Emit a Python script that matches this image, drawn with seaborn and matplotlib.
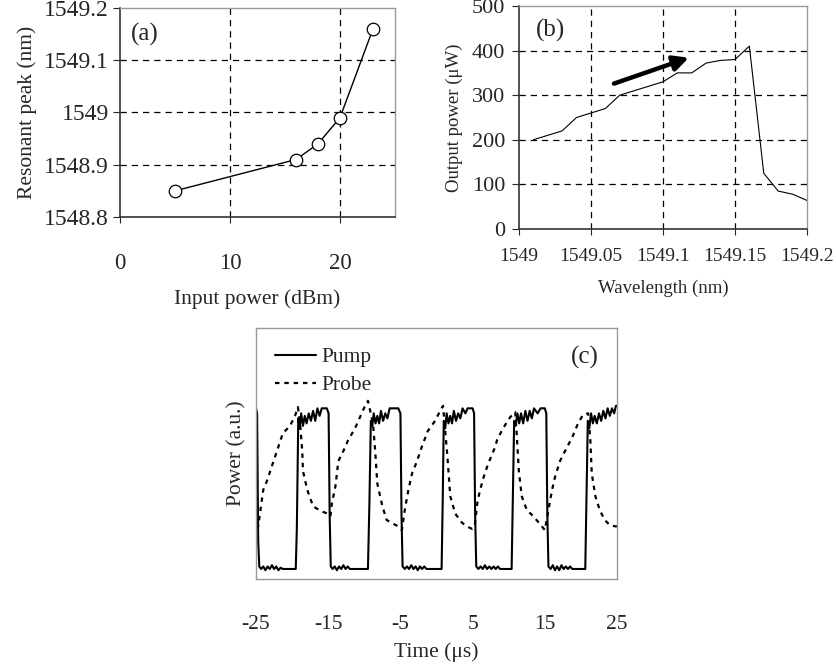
import seaborn as sns
import pandas as pd
import numpy as np
from matplotlib import pyplot as plt

# (a) resonant peak vs input power
power_dbm = [5, 16, 18, 20, 23]
peak_nm = [1548.85, 1548.91, 1548.94, 1548.99, 1549.16]

# (b) output power vs wavelength
wl_nm = [1549.01, 1549.03, 1549.04, 1549.05, 1549.06, 1549.07, 1549.08, 1549.09,
         1549.10, 1549.11, 1549.12, 1549.13, 1549.14, 1549.15, 1549.16, 1549.17,
         1549.18, 1549.19, 1549.20]
out_uw = [200, 220, 250, 260, 270, 300, 310, 320, 330, 350, 350, 372, 378, 380,
          410, 125, 85, 78, 64]

# (c) pump / probe traces
pump_t = [-25.0, -24.85, -24.7, -24.55, -24.3, -24.0, -23.7, -23.4, -23.1, -22.8, -22.5,
          -22.2, -21.9, -21.6, -21.3, -20.5, -19.5,
          -19.35, -19.15, -18.95, -18.75, -18.5, -18.25, -18.0, -17.7, -17.4, -17.1, -16.8,
          -16.5, -16.2, -15.9, -15.2, -14.95,
          -14.8, -14.65, -14.4, -14.1, -13.8, -13.5, -13.2, -12.9, -12.6, -12.3, -12.0,
          -11.0, -9.5,
          -9.3, -9.1, -8.9, -8.7, -8.45, -8.2, -7.95, -7.7, -7.4, -7.1, -6.8, -6.5, -5.3, -5.0,
          -4.85, -4.7, -4.4, -4.1, -3.8, -3.5, -3.2, -2.9, -2.6, -2.3, -2.0, -1.7, -1.4, 0.7,
          0.85, 1.0, 1.2, 1.4, 1.65, 1.9, 2.15, 2.4, 2.7, 3.0, 3.3, 3.6, 4.0, 4.3, 5.0, 5.2,
          5.35, 5.5, 5.8, 6.1, 6.4, 6.7, 7.0, 7.3, 7.6, 7.9, 8.2, 8.5, 8.8, 10.4,
          10.55, 10.75, 10.95, 11.2, 11.45, 11.7, 12.0, 12.3, 12.6, 12.9, 13.2, 13.5, 14.0,
          14.4, 15.0, 15.2,
          15.35, 15.5, 15.8, 16.1, 16.4, 16.7, 17.0, 17.3, 17.6, 17.9, 18.2, 18.5, 18.8, 20.6,
          20.75, 20.95, 21.15, 21.4, 21.65, 21.9, 22.2, 22.5, 22.8, 23.1, 23.4, 23.7, 24.0,
          24.3, 24.6, 24.85, 25.0]
pump_p = [0.68, 0.66, 0.15, 0.05, 0.04, 0.05, 0.035, 0.05, 0.04, 0.055, 0.04,
          0.05, 0.035, 0.045, 0.04, 0.04, 0.04,
          0.2, 0.64, 0.60, 0.66, 0.61, 0.65, 0.62, 0.66, 0.63, 0.67, 0.63,
          0.68, 0.65, 0.68, 0.68, 0.66,
          0.25, 0.05, 0.04, 0.05, 0.035, 0.05, 0.04, 0.055, 0.04, 0.05, 0.04,
          0.04, 0.04,
          0.3, 0.63, 0.61, 0.66, 0.62, 0.65, 0.62, 0.67, 0.63, 0.66, 0.64, 0.68, 0.68, 0.66,
          0.25, 0.05, 0.04, 0.05, 0.04, 0.055, 0.04, 0.05, 0.035, 0.05, 0.04, 0.05, 0.04, 0.04,
          0.3, 0.63, 0.60, 0.66, 0.62, 0.65, 0.62, 0.67, 0.63, 0.66, 0.64, 0.68, 0.66, 0.68, 0.68, 0.66,
          0.25, 0.05, 0.04, 0.05, 0.04, 0.055, 0.04, 0.05, 0.04, 0.05, 0.04, 0.05, 0.04, 0.04,
          0.3, 0.63, 0.61, 0.66, 0.62, 0.66, 0.62, 0.67, 0.63, 0.67, 0.64, 0.68, 0.66,
          0.68, 0.68, 0.66,
          0.25, 0.05, 0.04, 0.055, 0.035, 0.05, 0.035, 0.055, 0.04, 0.05, 0.04, 0.05, 0.04, 0.04,
          0.3, 0.63, 0.60, 0.66, 0.62, 0.65, 0.62, 0.66, 0.63, 0.67, 0.64, 0.68, 0.65,
          0.68, 0.66, 0.69, 0.69]

probe_t = [-25.0, -24.7, -24.0, -23.5, -22.8, -22.1, -21.3, -20.3, -19.6, -19.2,
           -18.9, -18.6, -18.5, -17.9, -17.1, -16.0, -15.0, -14.7,
           -14.5, -14.0, -13.6, -12.9, -12.3, -11.3, -10.6, -9.9, -9.5,
           -8.8, -8.5, -8.2, -7.5, -6.9, -6.0, -5.3, -4.8,
           -4.4, -3.9, -3.4, -2.7, -2.0, -1.2, -0.2, 0.5, 0.9,
           1.2, 1.5, 1.9, 2.6, 3.5, 4.2, 4.9, 5.3,
           5.7, 6.4, 7.1, 8.1, 8.4, 9.2, 10.2, 10.9,
           11.1, 11.4, 11.8, 12.5, 13.4, 14.3, 15.0,
           15.4, 16.0, 16.4, 17.1, 17.8, 18.8, 19.6, 20.3, 21.0,
           21.3, 21.5, 22.0, 22.6, 23.3, 24.0, 24.7, 25.0]
probe_p = [0.20, 0.21, 0.355, 0.39, 0.45, 0.51, 0.58, 0.61, 0.65, 0.685,
           0.62, 0.51, 0.43, 0.355, 0.29, 0.27, 0.26, 0.25,
           0.30, 0.37, 0.47, 0.51, 0.55, 0.60, 0.645, 0.69, 0.71,
           0.62, 0.51, 0.38, 0.29, 0.235, 0.22, 0.21, 0.195,
           0.275, 0.355, 0.42, 0.47, 0.53, 0.59, 0.63, 0.67, 0.69,
           0.59, 0.49, 0.33, 0.26, 0.225, 0.21, 0.20, 0.215,
           0.315, 0.395, 0.455, 0.525, 0.555, 0.60, 0.645, 0.665,
           0.58, 0.43, 0.33, 0.275, 0.25, 0.22, 0.195,
           0.26, 0.355, 0.405, 0.47, 0.51, 0.565, 0.62, 0.655, 0.66,
           0.555, 0.42, 0.33, 0.275, 0.235, 0.215, 0.21, 0.21]

sns.set_style('ticks')
plt.rcParams['font.family'] = ['Liberation Serif', 'DejaVu Serif']
plt.rcParams['axes.unicode_minus'] = False

fig = plt.figure(figsize=(8.37, 6.66), dpi=100)
ax_a = fig.add_axes([0.1434, 0.6742, 0.3285, 0.3138])
ax_b = fig.add_axes([0.6200, 0.6562, 0.3441, 0.3348])
ax_c = fig.add_axes([0.3059, 0.1306, 0.4313, 0.3769])

grid_kw = dict(color='black', linestyle=(0, (5, 4)), linewidth=0.9)


def frame(ax, dark_sides):
    for side, sp in ax.spines.items():
        sp.set_visible(True)
        if side in dark_sides:
            sp.set_color('#333333')
            sp.set_linewidth(1.2)
        else:
            sp.set_color('#999999')
            sp.set_linewidth(1.0)


# ---- (a)
df_a = pd.DataFrame({'p': power_dbm, 'w': peak_nm})
sns.lineplot(data=df_a, x='p', y='w', ax=ax_a, color='black', linewidth=1,
             marker='o', markersize=9, markerfacecolor='white',
             markeredgecolor='black', markeredgewidth=0.9)
ax_a.set_xlim(0, 25)
ax_a.set_ylim(1548.8, 1549.2)
ax_a.set_xticks([0, 10, 20])
ax_a.set_yticks([1548.8, 1548.9, 1549.0, 1549.1, 1549.2])
ax_a.set_yticklabels(['1548.8', '1548.9', '1549', '1549.1', '1549.2'])
for v in [10, 20]:
    ax_a.axvline(v, **grid_kw, zorder=0)
for v in [1548.9, 1549.0, 1549.1]:
    ax_a.axhline(v, **grid_kw, zorder=0)
ax_a.tick_params(axis='y', labelsize=17, length=5, pad=3)
ax_a.tick_params(axis='x', labelsize=16.5, length=4, pad=22)
ax_a.set_xlabel('Input power (dBm)', fontsize=15.5, labelpad=11)
ax_a.set_ylabel('Resonant peak (nm)', fontsize=15.5, labelpad=5)
ax_a.text(0.04, 0.93, '(a)', transform=ax_a.transAxes, fontsize=18, va='top')
frame(ax_a, ['left', 'bottom'])

# ---- (b)
df_b = pd.DataFrame({'wl': wl_nm, 'pw': out_uw})
sns.lineplot(data=df_b, x='wl', y='pw', ax=ax_b, color='black', linewidth=0.8)
ax_b.set_xlim(1549.0, 1549.2)
ax_b.set_ylim(0, 500)
ax_b.set_xticks([1549.0, 1549.05, 1549.1, 1549.15, 1549.2])
ax_b.set_xticklabels(['1549', '1549.05', '1549.1', '1549.15', '1549.2'])
ax_b.set_yticks([0, 100, 200, 300, 400, 500])
for v in [1549.05, 1549.1, 1549.15]:
    ax_b.axvline(v, **grid_kw, zorder=0)
for v in [100, 200, 300, 400]:
    ax_b.axhline(v, **grid_kw, zorder=0)
ax_b.tick_params(axis='y', labelsize=16, length=5, pad=5)
ax_b.tick_params(axis='x', labelsize=14, length=4, pad=10)
ax_b.set_xlabel('Wavelength (nm)', fontsize=13.5, labelpad=10)
ax_b.set_ylabel('Output power (μW)', fontsize=13.5, labelpad=6)
ax_b.text(0.06, 0.94, '(b)', transform=ax_b.transAxes, fontsize=18, va='top')
ax_b.annotate('', xy=(1549.118, 384), xytext=(1549.066, 326),
              arrowprops=dict(arrowstyle='-|>,head_length=0.9,head_width=0.45',
                              color='black', lw=3.2, shrinkA=0, shrinkB=0))
frame(ax_b, ['left', 'bottom'])

# ---- (c)
df_pump = pd.DataFrame({'t': pump_t, 'v': pump_p})
df_probe = pd.DataFrame({'t': probe_t, 'v': probe_p})
sns.lineplot(data=df_pump, x='t', y='v', ax=ax_c, color='black', linewidth=1.5,
             sort=False, label='Pump')
sns.lineplot(data=df_probe, x='t', y='v', ax=ax_c, color='black', linewidth=1.6,
             sort=False, linestyle=(0, (2, 2.2)), label='Probe')
ax_c.set_xlim(-25, 25)
ax_c.set_ylim(0, 1)
ax_c.set_xticks([-25, -15, -5, 5, 15, 25])
ax_c.set_yticks([])
ax_c.tick_params(axis='x', labelsize=15.5, length=0, pad=26)
ax_c.set_xlabel('Time (μs)', fontsize=15.5, labelpad=6)
ax_c.set_ylabel('Power (a.u.)', fontsize=15.5, labelpad=7)
ax_c.text(0.95, 0.93, '(c)', transform=ax_c.transAxes, fontsize=18, va='top', ha='right')
ax_c.legend(loc='upper left', frameon=False, fontsize=15.5, handlelength=1.9,
            handletextpad=0.25, labelspacing=0.35, borderaxespad=0.5)
frame(ax_c, [])

fig.savefig('out.png', dpi=100)
